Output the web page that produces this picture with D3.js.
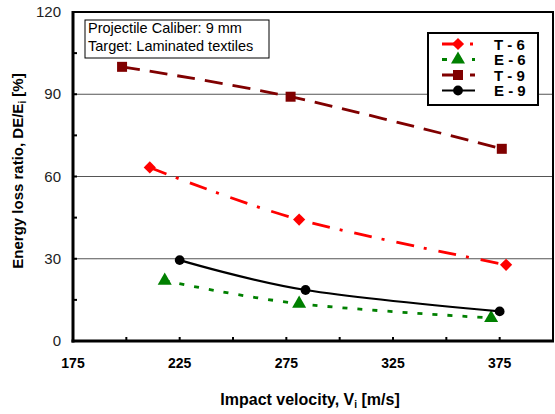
<!DOCTYPE html>
<html lang="en">
<head>
  <meta charset="UTF-8"/>
  <title>Energy loss ratio vs impact velocity</title>
  <style>
    *{margin:0;padding:0}
    body{background:#fff;font-family:"Liberation Sans",Arial,sans-serif}
    svg text{font-family:"Liberation Sans",Arial,sans-serif}
  </style>
</head>
<body>
  <div id="chart"></div>
  <script src="https://d3js.org/d3.v7.min.js"></script>
  <script>
    // values
    const seriesNames = ['T - 6', 'E - 6', 'T - 9', 'E - 9'];
    const t6 = [[211, 63.3], [281, 44.3], [378, 27.8]];
    const e6 = [[218, 22.0], [281, 13.6], [371, 8.4]];
    const t9 = [[198, 100.0], [277, 89.1], [376, 70.1]];
    const e9 = [[225, 29.5], [284, 18.6], [375, 10.8]];
    const xTicks = [175, 225, 275, 325, 375];
    const xMinor = [200, 250, 300, 350, 400];
    const yTicks = [0, 30, 60, 90, 120];
    const yMinor = [15, 45, 75, 105];

    const styles = [
      { color:'#ff0000', dash:'18,10,3,12', width:2.8, sym:d3.symbolDiamond2, size:95 },
      { color:'#008000', dash:'5,10',       width:2.8, sym:d3.symbolTriangle, size:85 },
      { color:'#800000', dash:'18,10',      width:2.8, sym:d3.symbolSquare,   size:100 },
      { color:'#000000', dash:null,         width:2.2, sym:d3.symbolCircle,   size:75 }
    ];
    const data = [t6, e6, t9, e9];

    const W = 555, H = 414;
    const m = { left:73, right:2, top:12, bottom:73 };

    const svg = d3.select('#chart').append('svg')
      .attr('width', W).attr('height', H);

    const x = d3.scaleLinear().domain([175, 400]).range([m.left, W - m.right]);
    const y = d3.scaleLinear().domain([0, 120]).range([H - m.bottom, m.top]);

    // gridlines
    svg.append('g').selectAll('line')
      .data([30, 60, 90]).join('line')
      .attr('x1', x(175)).attr('x2', x(400))
      .attr('y1', d => y(d)).attr('y2', d => y(d))
      .attr('stroke', '#555').attr('stroke-width', 1.2);

    // frame
    svg.append('rect')
      .attr('x', x(175)).attr('y', y(120))
      .attr('width', x(400) - x(175)).attr('height', y(0) - y(120))
      .attr('fill', 'none').attr('stroke', '#000').attr('stroke-width', 2);

    // inward ticks
    svg.append('g').selectAll('line')
      .data(xTicks.slice(1).concat(xMinor)).join('line')
      .attr('x1', d => x(d)).attr('x2', d => x(d))
      .attr('y1', y(0)).attr('y2', y(0) - 4)
      .attr('stroke', '#000').attr('stroke-width', 2);
    svg.append('g').selectAll('line')
      .data(yTicks.concat(yMinor)).join('line')
      .attr('x1', x(175)).attr('x2', x(175) + 4)
      .attr('y1', d => y(d)).attr('y2', d => y(d))
      .attr('stroke', '#000').attr('stroke-width', 2);

    // thick left/bottom axis lines
    svg.append('line')
      .attr('x1', x(175)).attr('x2', x(175)).attr('y1', y(120) - 1).attr('y2', y(0) + 1.5)
      .attr('stroke', '#000').attr('stroke-width', 3);
    svg.append('line')
      .attr('x1', x(175) - 1.5).attr('x2', x(400) + 1).attr('y1', y(0)).attr('y2', y(0))
      .attr('stroke', '#000').attr('stroke-width', 3);

    // tick labels
    svg.append('g').selectAll('text')
      .data(yTicks).join('text')
      .attr('x', 61).attr('y', d => y(d) + 5)
      .attr('text-anchor', 'end').attr('font-size', 15).attr('fill', '#222')
      .text(d => d);
    svg.append('g').selectAll('text')
      .data(xTicks).join('text')
      .attr('x', d => x(d)).attr('y', 368)
      .attr('text-anchor', 'middle').attr('font-size', 14).attr('font-weight', 'bold')
      .text(d => d);

    // axis titles
    const xt = svg.append('text')
      .attr('x', 310).attr('y', 405)
      .attr('text-anchor', 'middle').attr('font-size', 16).attr('font-weight', 'bold');
    xt.append('tspan').text('Impact velocity, V');
    xt.append('tspan').attr('font-size', 10).attr('dy', 3).text('i');
    xt.append('tspan').attr('dy', -3).text(' [m/s]');

    const yt = svg.append('text')
      .attr('transform', 'translate(23,171) rotate(-90)')
      .attr('text-anchor', 'middle').attr('font-size', 15).attr('font-weight', 'bold');
    yt.append('tspan').text('Energy loss ratio, DE/E');
    yt.append('tspan').attr('font-size', 10).attr('dy', 3).text('i');
    yt.append('tspan').attr('dy', -3).text(' [%]');

    // series
    const line = d3.line()
      .x(d => x(d[0])).y(d => y(d[1]))
      .curve(d3.curveCatmullRom.alpha(0));

    data.forEach((pts, i) => {
      const s = styles[i];
      svg.append('path')
        .datum(pts)
        .attr('d', line)
        .attr('fill', 'none')
        .attr('stroke', s.color)
        .attr('stroke-width', s.width)
        .attr('stroke-dasharray', s.dash);
      svg.append('g').selectAll('path')
        .data(pts).join('path')
        .attr('transform', d => `translate(${x(d[0])},${y(d[1])})`)
        .attr('d', d3.symbol(s.sym, s.size))
        .attr('fill', s.color);
    });

    // note box
    const note = svg.append('g');
    note.append('rect')
      .attr('x', 85).attr('y', 20).attr('width', 184).attr('height', 38)
      .attr('fill', '#fff').attr('stroke', '#000').attr('stroke-width', 1);
    note.append('text').attr('x', 88).attr('y', 33).attr('font-size', 14.5)
      .text('Projectile Caliber: 9 mm');
    note.append('text').attr('x', 88).attr('y', 51).attr('font-size', 14.5)
      .text('Target: Laminated textiles');

    // legend
    const lg = svg.append('g');
    lg.append('rect')
      .attr('x', 428).attr('y', 33).attr('width', 110).attr('height', 72)
      .attr('fill', '#fff').attr('stroke', '#000').attr('stroke-width', 2);
    const rows = [44, 59.5, 75, 90.5];
    seriesNames.forEach((name, i) => {
      const s = styles[i], ry = rows[i];
      lg.append('line')
        .attr('x1', 442).attr('x2', 475).attr('y1', ry).attr('y2', ry)
        .attr('stroke', s.color).attr('stroke-width', s.width)
        .attr('stroke-dasharray', s.dash);
      lg.append('path')
        .attr('transform', `translate(458,${ry})`)
        .attr('d', d3.symbol(s.sym, s.size))
        .attr('fill', s.color);
      lg.append('text')
        .attr('x', 494).attr('y', ry + 5.5)
        .attr('font-size', 15).attr('font-weight', 'bold')
        .text(name);
    });
  </script>
</body>
</html>
